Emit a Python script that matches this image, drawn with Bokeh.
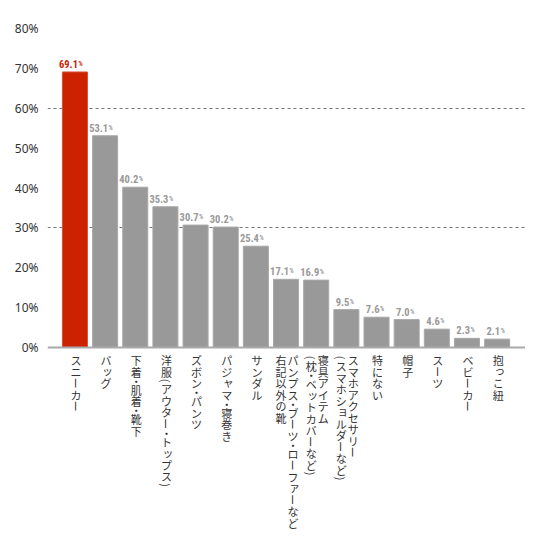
import math
from bokeh.plotting import figure
from bokeh.models import Range1d, FixedTicker, PrintfTickFormatter, Span, ColumnDataSource
from bokeh.core.properties import value
from bokeh.embed import file_html
from bokeh.resources import INLINE

# ---- data ----
categories = [
    "スニーカー",
    "バッグ",
    "下着・肌着・靴下",
    "洋服(アウター・トップス)",
    "ズボン・パンツ",
    "パジャマ・寝巻き",
    "サンダル",
    "パンプス・ブーツ・ローファーなど\n右記以外の靴",
    "寝具アイテム\n(枕・ベットカバーなど)",
    "スマホアクセサリー\n(スマホショルダーなど)",
    "特にない",
    "帽子",
    "スーツ",
    "ベビーカー",
    "抱っこ紐",
]
values = [69.1, 53.1, 40.2, 35.3, 30.7, 30.2, 25.4, 17.1, 16.9, 9.5, 7.6, 7.0, 4.6, 2.3, 2.1]
y_ticks = [0, 10, 20, 30, 40, 50, 60, 70, 80]
grid_ticks = [30, 60]
highlight_index = 0

RED = "#cc2200"
GRAY = "#999999"

idx = list(range(len(categories)))
colors = [RED if i == highlight_index else GRAY for i in idx]
line_colors = ["#d9503a" if i == highlight_index else "#a8a8a8" for i in idx]

# layout (pixels)
W, H = 525, 536
TOP, LEFT = 28, 47
PLOT_PX = 319  # pixels from 0% to 80%
frame_h = H - TOP
y_max = y_ticks[-1]
y_min = -(frame_h - PLOT_PX) / PLOT_PX * y_max  # extend frame below 0 for the labels

p = figure(width=W, height=H, output_backend="svg", toolbar_location=None,
           x_range=Range1d(-0.91, 14.94), y_range=Range1d(y_min, y_max),
           min_border_left=LEFT, min_border_right=0, min_border_top=TOP, min_border_bottom=0)
p.outline_line_color = None
p.background_fill_color = "white"
p.border_fill_color = "white"

p.xaxis.visible = False
p.xgrid.visible = False
p.ygrid.ticker = FixedTicker(ticks=grid_ticks)
p.ygrid.grid_line_color = "#777777"
p.ygrid.grid_line_dash = "3 3"
p.ygrid.grid_line_width = 1

ya = p.yaxis[0]
ya.ticker = FixedTicker(ticks=y_ticks)
ya.formatter = PrintfTickFormatter(format="%d%%")
ya.axis_line_color = None
ya.major_tick_line_color = None
ya.minor_tick_line_color = None
ya.major_label_text_font = "Noto Sans"
ya.major_label_text_font_size = "12px"
ya.major_label_text_color = "#333333"
ya.major_label_standoff = 3

src = ColumnDataSource(dict(x=idx, top=values, color=colors, lc=line_colors,
                            num=[f"{v:.1f}" for v in values], pct=["%"] * len(values)))
p.vbar(x="x", top="top", width=0.83, bottom=0, fill_color="color", line_color="lc",
       line_width=1, source=src)

p.add_layout(Span(location=0, dimension="width", line_color="#aaaaaa", line_width=2))

# value labels
NUM_FONT = "Roboto Condensed, DejaVu Sans Condensed, Liberation Sans Narrow, Roboto"
p.text(x="x", y="top", text="num", source=src, text_color="color",
       text_font=value(NUM_FONT), text_font_style="bold",
       text_font_size="10.5px", text_align="right", text_baseline="alphabetic",
       x_offset=3, y_offset=-8)
p.text(x="x", y="top", text="pct", source=src, text_color="color",
       text_font=value(NUM_FONT), text_font_style="bold",
       text_font_size="6.5px", text_align="left", text_baseline="alphabetic",
       x_offset=3.5, y_offset=-8)

# vertical (tategaki) category labels
small = set("ッャュョァィゥェォっゃゅょ")
rotate = set("ー()（）")

def pitch(c):
    if c == "・":
        return 6.5
    if c in "()（）":
        return 6.0
    return 11.5

lx, lxo, lyo, lch, lang = [], [], [], [], []
for i, cat in enumerate(categories):
    cols = cat.split("\n")
    n = len(cols)
    for j, col in enumerate(cols):
        xo = 1 + (n - 1) * 6 - j * 12
        yy = 7.0
        for c in col:
            pc = pitch(c)
            cxo, cyo = xo, yy + pc / 2
            if c in small:
                cxo += 1.5
                cyo -= 1.5
            lx.append(i)
            lxo.append(cxo)
            lyo.append(cyo)
            lch.append(c)
            lang.append(-math.pi / 2 if c in rotate else 0.0)
            yy += pc

lsrc = ColumnDataSource(dict(x=lx, y=[0] * len(lx), xo=lxo, yo=lyo, t=lch, a=lang))
p.text(x="x", y="y", text="t", x_offset="xo", y_offset="yo", angle="a", source=lsrc,
       text_font=value("Noto Sans CJK JP"), text_font_size="11px", text_color="#333333",
       text_align="center", text_baseline="middle")

open("out.html", "w").write(file_html(p, INLINE))
